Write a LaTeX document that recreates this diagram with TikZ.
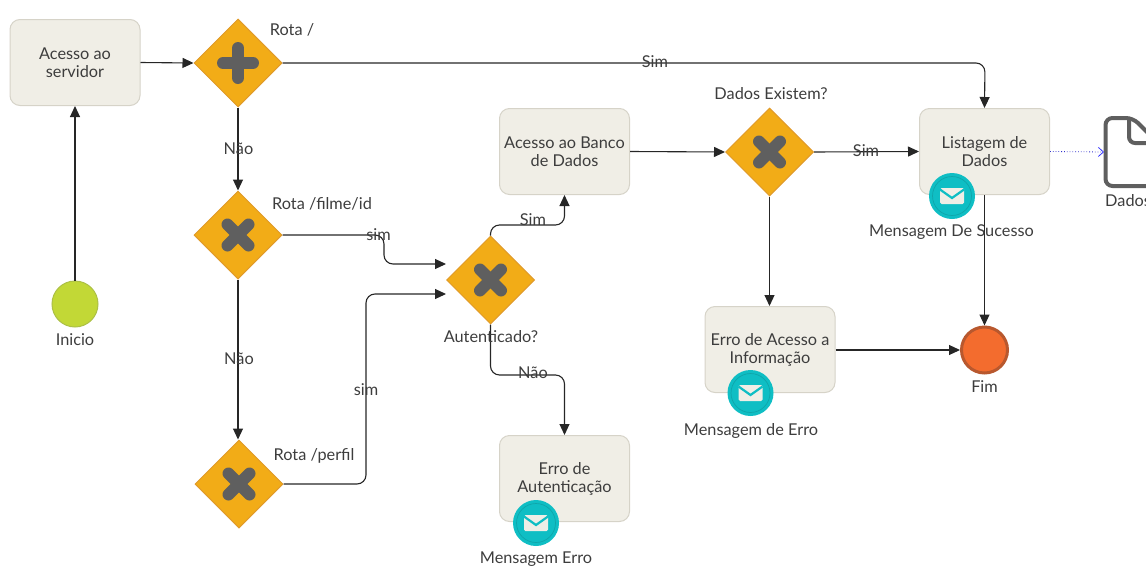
\documentclass[tikz,border=0pt]{standalone}
\usepackage{fontspec}
\setmainfont{Lato}
\usetikzlibrary{shapes.geometric,arrows.meta}
\definecolor{boxfill}{HTML}{F0EEE6}
\definecolor{boxline}{HTML}{D6D3C8}
\definecolor{gatefill}{HTML}{F2AC17}
\definecolor{gateline}{HTML}{E09A2A}
\definecolor{iconcol}{HTML}{5F5F5F}
\definecolor{teal1}{HTML}{0FBEC4}
\definecolor{teal2}{HTML}{10A5AA}
\definecolor{txt}{HTML}{3D3D3D}
\definecolor{startfill}{HTML}{C2D836}
\definecolor{startline}{HTML}{ACC046}
\definecolor{endfill}{HTML}{F36C2E}
\definecolor{endline}{HTML}{B8582E}
\tikzset{
  x=1pt,y=-1pt,
  lbl/.style={inner sep=0pt,text=txt,font=\fontsize{16.3}{18}\selectfont,align=center},
  taskbox/.style={draw=boxline,fill=boxfill,line width=1pt,rounded corners=10pt,minimum width=130pt,minimum height=86pt,inner sep=0pt,text=txt,font=\fontsize{16.3}{18}\selectfont,align=center},
  gate/.style={diamond,aspect=1,draw=gateline,fill=gatefill,line width=1pt,minimum width=88pt,minimum height=88pt,inner sep=0pt},
  msg/.style={circle,fill=teal1,minimum size=46pt,inner sep=0pt},
  flow/.style={draw=black!85,line width=1.1pt,rounded corners=9pt,-{Triangle[length=11pt,width=10pt]}},
  gicon/.style={draw=iconcol,line width=12pt,line cap=round},
}
\newcommand{\gx}[1]{\draw[gicon] ([shift={(-10.5,-10.5)}]#1.center) -- ([shift={(10.5,10.5)}]#1.center);\draw[gicon] ([shift={(10.5,-10.5)}]#1.center) -- ([shift={(-10.5,10.5)}]#1.center);}
\newcommand{\gmsg}[1]{%
  \draw[teal2,line width=.7pt] (#1.center) circle (19.5);
  \fill[boxfill,rounded corners=1.5pt] ([shift={(-12,-8)}]#1.center) rectangle ([shift={(12,8)}]#1.center);
  \draw[teal1,line width=2.2pt] ([shift={(-12,-6.5)}]#1.center) -- ([shift={(0,2)}]#1.center) -- ([shift={(12,-6.5)}]#1.center);}
\begin{document}
\begin{tikzpicture}
\useasboundingbox (0,0) rectangle (1146,565);
\clip (0,0) rectangle (1146,565);
% tasks
\node[taskbox] (acesso) at (75,62.5) {Acesso ao\\servidor};
\node[taskbox] (banco) at (564.5,151.5) {Acesso ao Banco\\de Dados};
\node[taskbox] (lista) at (984.5,151.5) {Listagem de\\Dados};
\node[taskbox] (erroinfo) at (770,349.5) {Erro de Acesso a\\Informação};
\node[taskbox] (erroaut) at (564.5,478.5) {Erro de\\Autenticação};
% gateways
\node[gate] (g1) at (238,63) {};
\node[gate] (g2) at (238,235) {};
\node[gate] (g3) at (239,484) {};
\node[gate] (g4) at (490.5,280) {};
\node[gate] (g5) at (769.5,152) {};
% events
\node[circle,draw=startline,fill=startfill,line width=1pt,minimum size=46pt,inner sep=0pt] (ini) at (75,304) {};
\node[circle,draw=endline,fill=endfill,line width=3pt,minimum size=46pt,inner sep=0pt] (fim) at (984.5,350) {};
% document
\coordinate (docin) at (1104,152);
\draw[iconcol,line width=4pt,rounded corners=7pt] (1105.5,152) -- (1105.5,118) -- (1133,118) -- (1170,155) -- (1170,186) -- (1105.5,186) -- cycle;
\draw[iconcol,line width=4pt,rounded corners=6pt] (1129,118) -- (1129,143) -- (1170,143);
% connectors
\draw[flow] (acesso.east) -- (g1.west);
\draw[flow] (ini.north) -- (acesso.south);
\draw[flow] (g1.east) -- (985,63) -- (lista.north);
\draw[flow] (g1.south) -- (g2.north);
\draw[flow] (g2.south) -- (g2.south |- g3.north);
\draw[flow] (g2.east) -- (384,235) -- (384,264) -- (446,264);
\draw[flow] (g3.east) -- (366,484) -- (366,294) -- (446,294);
\draw[flow] (g4.north) -- (490.5,225) -- (564.5,225) -- (banco.south);
\draw[flow] (g4.south) -- (490.5,375) -- (564.5,375) -- (erroaut.north);
\draw[flow] (banco.east) -- (g5.west);
\draw[flow] (g5.east) -- (lista.west);
\draw[flow] (g5.south) -- (g5.south |- erroinfo.north);
\draw[flow] (erroinfo.east |- fim.west) -- (fim.west);
\draw[flow] (lista.south) -- (fim.north);
\draw[draw=blue!60!gray,dotted,line width=.8pt,-{Straight Barb[length=5pt,width=9pt,color=blue!80]}] (lista.east) -- (docin);
% gateway icons
\draw[gicon] ([shift={(-15,0)}]g1.center) -- ([shift={(15,0)}]g1.center);
\draw[gicon] ([shift={(0,-15)}]g1.center) -- ([shift={(0,15)}]g1.center);
\gx{g2}\gx{g3}\gx{g4}\gx{g5}
% message icons
\node[msg] (m1) at (952,196) {};
\node[msg] (m2) at (750.5,393) {};
\node[msg] (m3) at (536,523) {};
\gmsg{m1}\gmsg{m2}\gmsg{m3}
% labels
\node[lbl] (t1) at (292,30) {Rota /};
\node[lbl] (t2) at (322,203.5) {Rota /filme/id};
\node[lbl] (t3) at (314,455.5) {Rota /perfil};
\node[lbl] (t4) at (491,336.5) {Autenticado?};
\node[lbl] (t5) at (771,93.5) {Dados Existem?};
\node[lbl] (t6) at (75,339.5) {Inicio};
\node[lbl] (t7) at (984.5,387) {Fim};
\node[lbl] (t8) at (951.5,232.5) {Mensagem De Sucesso};
\node[lbl] (t9) at (751,430.5) {Mensagem de Erro};
\node[lbl] (t10) at (536,559.5) {Mensagem Erro};
\node[lbl,anchor=west] (t11) at (1105,200.5) {Dados};
\node[lbl] (e1) at (655,62) {Sim};
\node[lbl] (e2) at (238.5,148.5) {Não};
\node[lbl] (e3) at (239,358.5) {Não};
\node[lbl] (e4) at (378.5,234.5) {sim};
\node[lbl] (e5) at (366,389.5) {sim};
\node[lbl] (e6) at (533,220) {Sim};
\node[lbl] (e7) at (533,372.5) {Não};
\node[lbl] (e8) at (866,150.5) {Sim};
\end{tikzpicture}
\end{document}
